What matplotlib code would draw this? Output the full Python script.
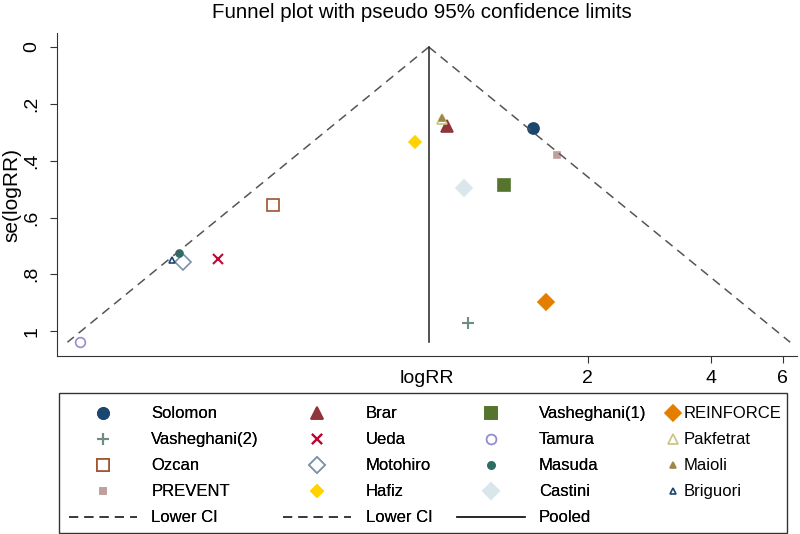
import numpy as np
import matplotlib
matplotlib.use("Agg")
import matplotlib.pyplot as plt
from matplotlib.lines import Line2D
from matplotlib.patches import Rectangle
from matplotlib.ticker import FixedLocator, FuncFormatter, NullLocator

plt.rcParams['font.family'] = ['Liberation Sans', 'DejaVu Sans']

# study data: risk ratio and standard error of log(RR)
studies = ['Solomon', 'Brar', 'Vasheghani(1)', 'REINFORCE',
           'Vasheghani(2)', 'Ueda', 'Tamura', 'Pakfetrat',
           'Ozcan', 'Motohiro', 'Masuda', 'Maioli',
           'PREVENT', 'Hafiz', 'Castini', 'Briguori']
rr = [1.47, 0.904, 1.246, 1.578,
      1.017, 0.249, 0.114, 0.88,
      0.339, 0.204, 0.200, 0.878,
      1.68, 0.754, 0.994, 0.192]
se = [0.285, 0.278, 0.486, 0.898,
      0.972, 0.747, 1.039, 0.252,
      0.556, 0.757, 0.726, 0.250,
      0.38, 0.334, 0.497, 0.75]
pooled_rr = 0.816

# Stata s2color style markers
colors = ['#1a476f', '#90353b', '#55752f', '#e37e00',
          '#6e8e84', '#c10534', '#938dd2', '#cac27e',
          '#a0522d', '#7b92a8', '#2d6d66', '#9c8847',
          '#bfa19c', '#ffd200', '#d9e6eb', '#1a476f']
markers = ['o', '^', 's', 'D', '+', 'x', 'o', '^',
           's', 'D', 'o', '^', 's', 'D', 'D', '^']
sizes = [8, 8, 8, 8, 9, 7, 7, 7, 8, 8, 5, 5, 5, 6, 8, 5]
hollow = [False, False, False, False, False, False, True, True,
          True, True, False, False, False, False, False, True]

fig = plt.figure(figsize=(8, 5.34), dpi=100)
ax = fig.add_axes([0.071, 0.333, 0.925, 0.605])

handles = []
for i, name in enumerate(studies):
    kw = dict(marker=markers[i], markersize=sizes[i], linestyle='none',
              color=colors[i], markeredgewidth=1.5 if markers[i] in '+x' else 1.2)
    if hollow[i]:
        kw['markerfacecolor'] = 'white'
    ax.plot([rr[i]], [se[i]], **kw)
    handles.append(Line2D([], [], label=name, **kw))

se_max = max(se)
lp = np.log(pooled_rr)
dash = (0, (6, 4))
ax.plot([pooled_rr, np.exp(lp - 1.96 * se_max)], [0, se_max],
        color='#555555', lw=1.1, linestyle=dash)
ax.plot([pooled_rr, np.exp(lp + 1.96 * se_max)], [0, se_max],
        color='#555555', lw=1.1, linestyle=dash)
ax.plot([pooled_rr, pooled_rr], [0, se_max], color='#222222', lw=1.1)

ax.set_xscale('log')
ax.set_xlim(0.1003, 6.49)
ax.set_ylim(1.088, -0.049)
ax.xaxis.set_major_locator(FixedLocator([2, 4, 6]))
ax.xaxis.set_minor_locator(NullLocator())
ax.xaxis.set_major_formatter(FuncFormatter(lambda v, p: '%d' % v))
ax.set_yticks([0, 0.2, 0.4, 0.6, 0.8, 1])
ax.set_yticklabels(['0', '.2', '.4', '.6', '.8', '1'], rotation=90, va='center')
ax.tick_params(labelsize=14, length=5, color='#333333')
ax.tick_params(axis='x', pad=5)
ax.tick_params(axis='y', pad=7)
for s in ['top', 'right']:
    ax.spines[s].set_visible(False)
for s in ['left', 'bottom']:
    ax.spines[s].set_color('#333333')

ax.set_xlabel('logRR', fontsize=14, va='center')
ax.xaxis.set_label_coords(0.5, -0.068)
ax.set_ylabel('se(logRR)', fontsize=15, va='center')
ax.yaxis.set_label_coords(-0.061, 0.5)
fig.text(0.527, 1 - 12 / 534, 'Funnel plot with pseudo 95% confidence limits',
         fontsize=14.8, ha='center', va='center')

line_handles = [Line2D([], [], color='#333333', lw=1.1, linestyle=dash, label='Lower CI'),
                Line2D([], [], color='#333333', lw=1.1, linestyle=dash, label='Lower CI'),
                Line2D([], [], color='#222222', lw=1.1, label='Pooled')]

# first three legend columns (column-major filling -> row-major layout)
col1 = [handles[0], handles[4], handles[8], handles[12], line_handles[0]]
col2 = [handles[1], handles[5], handles[9], handles[13], line_handles[1]]
col3 = [handles[2], handles[6], handles[10], handles[14], line_handles[2]]
col4 = [handles[3], handles[7], handles[11], handles[15]]
order = col1 + col2 + col3

leg_kw = dict(fontsize=12, labelspacing=0.66, frameon=False, borderpad=0,
              borderaxespad=0, loc='upper left')
leg1 = fig.legend(handles=order, labels=[h.get_label() for h in order], ncol=3,
                  bbox_to_anchor=(0.086, 0.239), handlelength=4.1,
                  handletextpad=0.85, columnspacing=1.45, **leg_kw)
leg2 = fig.legend(handles=col4, labels=[h.get_label() for h in col4], ncol=1,
                  bbox_to_anchor=(0.833, 0.239), handlelength=0.8,
                  handletextpad=0.25, **leg_kw)
fig.add_artist(leg1)

fig.add_artist(Rectangle((0.074, 0.002), 0.91, 0.262, transform=fig.transFigure,
                         fill=False, edgecolor='#333333', lw=1.0))

fig.savefig('out.png', dpi=100)
